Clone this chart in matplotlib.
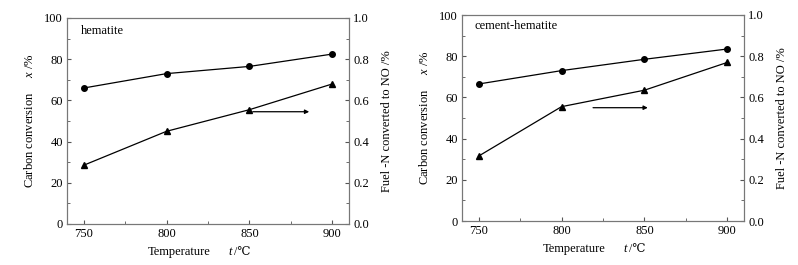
import matplotlib
matplotlib.use('Agg')
import matplotlib.pyplot as plt
from matplotlib.ticker import MultipleLocator

plt.rcParams['font.family'] = ['Liberation Serif', 'DejaVu Serif']
plt.rcParams['mathtext.fontset'] = 'custom'
plt.rcParams['mathtext.it'] = 'Liberation Serif:italic'
plt.rcParams['mathtext.rm'] = 'Liberation Serif'

temps = [750, 800, 850, 900]
titles = ['hematite', 'cement-hematite']
carbon_conv = [[66, 73, 76.5, 82.5], [66.5, 73, 78.5, 83.5]]
fuel_n_no = [[0.285, 0.45, 0.555, 0.68], [0.315, 0.555, 0.635, 0.77]]
arrows = [((852, 54.5), (886, 54.5)), ((819, 55), (852, 55))]

fig = plt.figure(figsize=(7.98, 2.65), dpi=100)
boxes = [[67 / 798, 1 - 224 / 265, 282 / 798, 206 / 265],
         [462 / 798, 1 - 221 / 265, 282 / 798, 206 / 265]]
title_pos = [(0.05, 0.965), (0.043, 0.975)]

for i in range(2):
    ax = fig.add_axes(boxes[i])
    ax2 = ax.twinx()
    ax.plot(temps, carbon_conv[i], color='black', lw=0.9, marker='o', ms=4)
    ax2.plot(temps, fuel_n_no[i], color='black', lw=0.9, marker='^', ms=4)
    ax.set_xlim(740, 910)
    ax.set_ylim(0, 100)
    ax2.set_ylim(0, 1.0)
    ax.set_xticks(temps)
    ax.xaxis.set_minor_locator(MultipleLocator(25))
    ax.yaxis.set_major_locator(MultipleLocator(20))
    ax.yaxis.set_minor_locator(MultipleLocator(10))
    ax2.yaxis.set_major_locator(MultipleLocator(0.2))
    ax2.yaxis.set_minor_locator(MultipleLocator(0.1))
    ax2.set_yticklabels([f'{v:.1f}' for v in ax2.get_yticks()])
    for a in (ax, ax2):
        a.tick_params(which='both', direction='in', labelsize=9, color='#555555', pad=3)
        a.tick_params(which='major', length=3)
        a.tick_params(which='minor', length=2)
        for s in a.spines.values():
            s.set_color('#777777')
            s.set_linewidth(0.8)
    ax.set_ylabel('Carbon conversion     $x$ /%', fontsize=9, labelpad=6)
    ax2.set_ylabel('Fuel -N converted to NO /%', fontsize=9, labelpad=9)

    # x label in pieces so the italic t and the ℃ sign both render
    ax.text(0.287, -0.135, 'Temperature', transform=ax.transAxes, fontsize=9, va='center')
    ax.text(0.571, -0.135, 't', transform=ax.transAxes, fontsize=9, va='center', style='italic')
    ax.text(0.592, -0.135, '/\u2103', transform=ax.transAxes, fontsize=8.5, va='center',
            family=['Liberation Serif', 'DejaVu Serif'])

    ax.text(title_pos[i][0], title_pos[i][1], titles[i], transform=ax.transAxes,
            fontsize=9, va='top')
    (x0, y0), (x1, y1) = arrows[i]
    ax.annotate('', xy=(x1, y1), xytext=(x0, y0),
                arrowprops=dict(arrowstyle='-|>', color='black', lw=0.9,
                                mutation_scale=6, shrinkA=0, shrinkB=0))

fig.savefig('out.png', dpi=100)
